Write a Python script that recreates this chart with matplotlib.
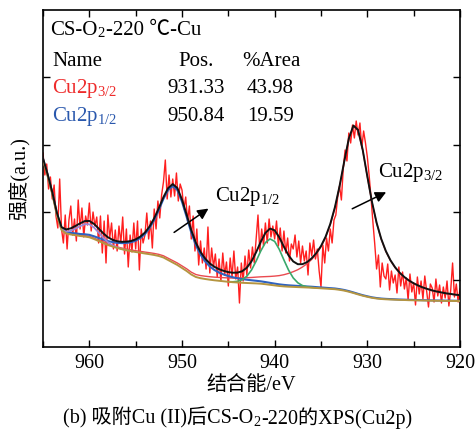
import numpy as np
import matplotlib
matplotlib.use("Agg")
import matplotlib.pyplot as plt
from matplotlib.offsetbox import TextArea, HPacker, AnnotationBbox

plt.rcParams['font.family'] = ['Liberation Serif', 'Noto Sans CJK SC', 'DejaVu Sans']
plt.rcParams['mathtext.fontset'] = 'custom'
plt.rcParams['mathtext.rm'] = 'Liberation Serif'
plt.rcParams['mathtext.it'] = 'Liberation Serif:italic'

# raw spectrum, 965 -> 920 eV in 0.2 eV steps (one row per eV)
raw_counts = [
    194, 172, 183, 158, 170,   # 965
    148, 162, 131, 119, 168,   # 964
    118, 104, 132, 98, 127,    # 963
    141, 112, 128, 106, 147,   # 962
    118, 139, 110, 131, 122,   # 961
    144, 116, 135, 121, 130,   # 960
    104, 131, 94, 126, 84,     # 959
    132, 109, 124, 98, 117,    # 958
    96, 121, 104, 130, 93,     # 957
    118, 80, 112, 95, 124,     # 956
    98, 126, 77, 118, 104,     # 955
    112, 134, 108, 126, 99,    # 954
    138, 118, 146, 129, 152,   # 953
    165, 187, 148, 172, 150,   # 952
    168, 151, 174, 146, 163,   # 951
    157, 138, 150, 126, 141,   # 950
    108, 131, 96, 118, 82,     # 949
    106, 84, 99, 78, 120,      # 948
    74, 99, 80, 93, 70,        # 947
    88, 66, 94, 72, 85,        # 946
    61, 89, 70, 96, 68,        # 945
    80, 44, 84, 66, 91,        # 944
    72, 97, 79, 100, 84,       # 943
    108, 132, 95, 118, 101,    # 942
    124, 104, 128, 110, 121,   # 941
    108, 126, 101, 119, 96,    # 940
    116, 94, 109, 86, 103,     # 939
    98, 112, 90, 106, 84,      # 938
    101, 86, 96, 72, 104,      # 937
    91, 107, 88, 98, 76,       # 936
    60, 102, 84, 109, 96,      # 935
    118, 104, 127, 132, 150,   # 934
    161, 147, 178, 197, 186,   # 933
    214, 204, 222, 209, 226,   # 932
    212, 224, 199, 216, 204,   # 931
    190, 171, 149, 125, 103,   # 930
    78, 92, 60, 84, 71,        # 929
    68, 83, 57, 76, 64,        # 928
    72, 54, 80, 61, 75,        # 927
    58, 69, 47, 73, 55,        # 926
    64, 42, 70, 53, 66,        # 925
    48, 71, 56, 40, 63,        # 924
    59, 45, 68, 51, 62,        # 923
    44, 60, 49, 66, 41,        # 922
    57, 84, 50, 63, 45,        # 921
    58]                        # 920
energy_raw = np.linspace(965, 920, len(raw_counts))

# fit curves, 965 -> 920 eV in 0.5 eV steps (10 per row)
background = [
    187, 171, 153, 132, 117, 113.5, 112.5, 111.8, 111, 110.5,
    109.7, 108, 106, 104, 102, 100.5, 99, 97.8, 96.8, 95.8,
    95, 94.3, 93.5, 92.8, 92, 91, 89.5, 87, 84.5, 82,
    79, 76, 72.5, 70, 68.8, 68, 67.3, 66.7, 66.2, 65.7,
    65.2, 64.8, 64.5, 64.2, 64, 63.8, 63.6, 63.3, 62.8, 62.2,
    61.6, 61, 60.6, 60.3, 60.1, 59.9, 59.7, 59.5, 59.3, 59,
    58.7, 58.4, 58.1, 57.8, 57.2, 56.4, 55.3, 54, 52.6, 51.3,
    50.2, 49.2, 48.5, 48, 47.7, 47.5, 47.3, 47.1, 47, 46.8,
    46.7, 46.6, 46.5, 46.4, 46.3, 46.2, 46.2, 46.1, 46.1, 46,
    46]
cu2p32 = [
    0.65, 0.67, 0.69, 0.71, 0.73, 0.76, 0.78, 0.81, 0.84, 0.87,
    0.90, 0.93, 0.96, 1.00, 1.03, 1.07, 1.12, 1.16, 1.21, 1.26,
    1.31, 1.37, 1.43, 1.49, 1.56, 1.63, 1.72, 1.80, 1.89, 1.99,
    2.10, 2.21, 2.34, 2.48, 2.62, 2.79, 2.97, 3.16, 3.38, 3.61,
    3.87, 4.17, 4.49, 4.86, 5.27, 5.73, 6.27, 6.87, 7.57, 8.37,
    9.31, 10.4, 11.7, 13.3, 15.2, 17.4, 20.3, 23.8, 28.3, 34.0,
    41.4, 51.2, 64.2, 81.2, 102.9, 128.2, 152.5, 166.9, 163.9, 145.4,
    119.9, 95.5, 75.3, 59.7, 47.8, 38.8, 32.0, 26.7, 22.6, 19.3,
    16.7, 14.5, 12.7, 11.3, 10.0, 9.0, 8.1, 7.3, 6.7, 6.1,
    5.6]
cu2p12 = [
    1.06, 1.13, 1.22, 1.31, 1.42, 1.54, 1.68, 1.83, 2.01, 2.22,
    2.45, 2.73, 3.05, 3.44, 3.90, 4.45, 5.14, 6.08, 7.28, 8.92,
    11.3, 14.7, 19.5, 26.2, 35.2, 46.2, 58.7, 70.0, 76.5, 75.0,
    66.3, 54.1, 42.0, 31.7, 23.6, 17.6, 13.3, 10.3, 8.25, 6.8,
    5.72, 4.9, 4.24, 3.72, 3.29, 2.93, 2.63, 2.37, 2.14, 1.95,
    1.77, 1.63, 1.50, 1.38, 1.28, 1.18, 1.10, 1.03, 0.96, 0.90,
    0.85, 0.80, 0.75, 0.71, 0.67, 0.64, 0.60, 0.57, 0.55, 0.52,
    0.50, 0.48, 0.46, 0.44, 0.42, 0.40, 0.39, 0.37, 0.36, 0.35,
    0.33, 0.32, 0.31, 0.30, 0.29, 0.28, 0.27, 0.26, 0.26, 0.25,
    0.24]
# satellites: 963.5 -> 956.0 eV and 945.0 -> 935.5 eV
sat_960 = [0.24, 0.7, 1.76, 3.7, 6.6, 9.8, 12.3, 13.0, 11.5, 8.5,
           5.3, 2.8, 1.2, 0.46, 0.14, 0.04]
sat_940 = [0.1, 0.4, 1.2, 3.0, 6.8, 13.2, 22.3, 32.7, 41.6, 45.9,
           44.0, 36.6, 26.4, 16.6, 9.0, 4.3, 1.75, 0.6, 0.2, 0.05]

energy_fit = np.linspace(965, 920, len(background))
bg = np.array(background)
s960 = np.zeros(len(bg))
s960[3:3 + len(sat_960)] = sat_960
s940 = np.zeros(len(bg))
s940[40:40 + len(sat_940)] = sat_940
envelope = bg + np.array(cu2p32) + np.array(cu2p12) + s960 + s940

FS = 15

fig = plt.figure(figsize=(4.76, 4.32), dpi=100)
ax = fig.add_axes([43 / 476, 85 / 432, 417 / 476, 337 / 432])

ax.plot(energy_raw, raw_counts, color='#ff1f1f', lw=1.0, zorder=1)
ax.plot(energy_fit, bg + np.array(cu2p32), color='#ea4a50', lw=1.0, zorder=2)
ax.plot(energy_fit, bg + np.array(cu2p12), color='#2e62c0', lw=1.5, zorder=3)
ax.plot(energy_fit[3:19], bg[3:19] + np.array(sat_960), color='#9c88d8', lw=1.3, zorder=3)
ax.plot(energy_fit[40:60], bg[40:60] + np.array(sat_940), color='#3aa86b', lw=1.2, zorder=3)
ax.plot(energy_fit, bg, color='#b59540', lw=1.4, zorder=4)
ax.plot(energy_fit, envelope, color='#111111', lw=1.4, zorder=5)

ax.set_xlim(965, 920)
ax.set_ylim(0, 337)
ax.set_xticks([960, 950, 940, 930, 920])
ax.set_xticks([965, 955, 945, 935, 925], minor=True)
ax.set_yticks([67.4, 134.8, 202.2, 269.6])
ax.set_yticklabels([])
ax.tick_params(which='both', direction='in', top=True, right=True, labelsize=14.5, width=1.0)
ax.tick_params(which='major', length=5)
ax.tick_params(which='minor', length=4)
ax.tick_params(axis='x', pad=5)
for s in ax.spines.values():
    s.set_linewidth(1.2)

ax.set_xlabel('结合能/eV', fontsize=14.5, labelpad=2)
ax.set_ylabel('强度(a.u.)', fontsize=14.5, labelpad=6)


def rich(parts, xy, coords, align, color='black'):
    # text with a subscript piece, kept out of mathtext so CJK falls back
    boxes = [TextArea(p, textprops=dict(fontsize=FS, color=color)) for p in parts]
    pack = HPacker(children=boxes, align='baseline', pad=0, sep=0)
    ab = AnnotationBbox(pack, xy, xycoords=coords, frameon=False,
                        box_alignment=align, pad=0)
    ax.add_artist(ab)


tr = ax.transAxes
rich(['CS-O', '$_2$', '-220 ℃-Cu'], (0.017, 0.938), 'axes fraction', (0, 0.5))
ax.text(0.022, 0.846, 'Name', transform=tr, fontsize=FS, va='center')
ax.text(0.367, 0.846, 'Pos.', transform=tr, fontsize=FS, va='center', ha='center')
ax.text(0.547, 0.846, '%Area', transform=tr, fontsize=FS, va='center', ha='center')
ax.text(0.022, 0.766, 'Cu2p$_{3/2}$', transform=tr, fontsize=FS, va='center', color='#ee2b2b')
ax.text(0.367, 0.766, '931.33', transform=tr, fontsize=FS, va='center', ha='center')
ax.text(0.545, 0.766, '43.98', transform=tr, fontsize=FS, va='center', ha='center')
ax.text(0.022, 0.685, 'Cu2p$_{1/2}$', transform=tr, fontsize=FS, va='center', color='#2a58ad')
ax.text(0.367, 0.685, '950.84', transform=tr, fontsize=FS, va='center', ha='center')
ax.text(0.545, 0.685, '19.59', transform=tr, fontsize=FS, va='center', ha='center')

arrow = dict(arrowstyle='-|>', color='black', lw=1.1, mutation_scale=16)
ax.annotate('', xy=(946.9, 140), xytext=(951.1, 113), arrowprops=arrow)
ax.text(946.4, 150, 'Cu2p$_{1/2}$', fontsize=FS, va='center')
ax.annotate('', xy=(927.7, 156), xytext=(931.9, 137), arrowprops=arrow)
ax.text(928.9, 175, 'Cu2p$_{3/2}$', fontsize=FS, va='center')

cap = [TextArea(p, textprops=dict(fontsize=14.5))
       for p in ['(b) 吸附Cu (II)后CS-O', '$_2$', '-220的XPS(Cu2p)']]
cap_box = AnnotationBbox(HPacker(children=cap, align='baseline', pad=0, sep=0),
                         (0.499, 0.032), xycoords='figure fraction', frameon=False,
                         box_alignment=(0.5, 0.5), pad=0, annotation_clip=False)
fig.add_artist(cap_box)

fig.savefig('out.png', dpi=100)
